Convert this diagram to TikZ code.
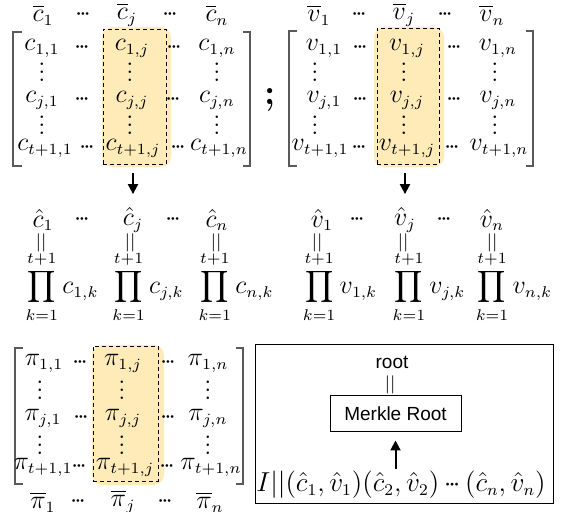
\RequirePackage{fix-cm}
\documentclass[tikz,border=0pt]{standalone}
\usepackage{amsmath,amssymb}
\usepackage{fontspec}
\newfontfamily\merklefont{Liberation Sans}
\usepackage{graphicx}
\usetikzlibrary{positioning,fit,arrows.meta}
\definecolor{colfill}{RGB}{255,235,184}
\definecolor{brkgray}{RGB}{90,90,90}
\DeclareMathSizes{13}{13}{7.8}{6}
\DeclareMathSizes{13.7}{13.7}{8.2}{6.4}
\newcommand{\tdots}{\mathinner{{\cdot}\mkern-2mu{\cdot}\mkern-2mu{\cdot}}}
\newcommand{\bigprod}{\mathop{\vcenter{\hbox{\scalebox{0.85}{$\displaystyle\prod$}}}}\limits}

\begin{document}
\begin{tikzpicture}[x=0.5pt,y=-0.5pt,
 every node/.style={font=\fontsize{13}{16}\selectfont,inner sep=1pt},
 colbox/.style={fill=colfill,rounded corners=5pt,inner sep=0pt},
 dashbox/.style={draw,dash pattern=on 2pt off 1.5pt,line width=0.4pt,inner sep=0pt},
 brk/.style={draw=brkgray,line width=0.6pt},
 vd/.style={yshift=3pt},
 eqv/.style={font=\fontsize{14}{14}\selectfont,text=black!80},
 sanslbl/.style={font=\merklefont\fontsize{9.5}{11}\selectfont},
 box/.style={draw,line width=0.5pt,inner sep=0pt},
 arr/.style={-{Triangle[length=5pt,width=5pt]},line width=1pt}]
\useasboundingbox (0,0) rectangle (564,512);

\node[colbox,fit={(102,27) (171,167)}] (hl-c) {};
\node[dashbox,fit={(103,29) (166,164)}] (dl-c) {};
\node[colbox,fit={(374,27) (444,167)}] (hl-v) {};
\node[dashbox,fit={(377,28) (439,164)}] (dl-v) {};
\node[colbox,fit={(92,345) (164,485)}] (hl-p) {};
\node[dashbox,fit={(93,346) (158,481)}] (dl-p) {};

\draw[brk] (22,32) -- (13,32) -- (13,166) -- (22,166);
\draw[brk] (243,32) -- (250,32) -- (250,166) -- (243,166);
\draw[brk] (297,31) -- (289,31) -- (289,166) -- (297,166);
\draw[brk] (526,31) -- (533,31) -- (533,166) -- (526,166);
\draw[brk] (23,348) -- (15,348) -- (15,484) -- (23,484);
\draw[brk] (236,348) -- (243,348) -- (243,484) -- (236,484);

\node (cbar-1) at (43,15) {$\overline{c}_1$};
\node (cbar-d1) at (83,15) {$\tdots$};
\node (cbar-j) at (127,15) {$\overline{c}_j$};
\node (cbar-d2) at (170,15) {$\tdots$};
\node (cbar-n) at (217,15) {$\overline{c}_n$};
\foreach \y/\r/\xa/\xb/\xc/\xd/\xe [count=\i] in {48/1/42/82/132/174/217, 100/j/42/82/132/173/217, 148/t+1/45/87/133/178/219}{
  \node (c-\i-1) at (\xa,\y) {$c_{\r,1}$};
  \node (c-\i-d1) at (\xb,\y) {$\tdots$};
  \node (c-\i-j) at (\xc,\y) {$c_{\r,j}$};
  \node (c-\i-d2) at (\xd,\y) {$\tdots$};
  \node (c-\i-n) at (\xe,\y) {$c_{\r,n}$};
}
\foreach \y [count=\i] in {72,125}{
  \node[vd] (c-v\i-1) at (42,\y) {$\vdots$};
  \node[vd] (c-v\i-j) at (130,\y) {$\vdots$};
  \node[vd] (c-v\i-n) at (217,\y) {$\vdots$};
}
\node[font=\fontsize{18}{20}\selectfont\bfseries] (semi) at (270,100) {;};

\node (vbar-1) at (319,15) {$\overline{v}_1$};
\node (vbar-d1) at (359,15) {$\tdots$};
\node (vbar-j) at (404,15) {$\overline{v}_j$};
\node (vbar-d2) at (445,15) {$\tdots$};
\node (vbar-n) at (492,15) {$\overline{v}_n$};
\foreach \y/\r/\xa/\xb/\xc/\xd/\xe [count=\i] in {48/1/324/360/407/454/498, 100/j/324/360/407/454/498, 148/t+1/320/359/407/452/499}{
  \node (v-\i-1) at (\xa,\y) {$v_{\r,1}$};
  \node (v-\i-d1) at (\xb,\y) {$\tdots$};
  \node (v-\i-j) at (\xc,\y) {$v_{\r,j}$};
  \node (v-\i-d2) at (\xd,\y) {$\tdots$};
  \node (v-\i-n) at (\xe,\y) {$v_{\r,n}$};
}
\foreach \y [count=\i] in {72,125}{
  \node[vd] (v-v\i-1) at (315,\y) {$\vdots$};
  \node[vd] (v-v\i-j) at (404,\y) {$\vdots$};
  \node[vd] (v-v\i-n) at (495,\y) {$\vdots$};
}

\node (chat-1) at (43,220) {$\hat{c}_1$};
\node (chat-d1) at (82,220) {$\tdots$};
\node (chat-j) at (133,220) {$\hat{c}_j$};
\node (chat-d2) at (173,220) {$\tdots$};
\node (chat-n) at (217,220) {$\hat{c}_n$};
\node (vhat-1) at (322,220) {$\hat{v}_1$};
\node (vhat-d1) at (357,220) {$\tdots$};
\node (vhat-j) at (405,220) {$\hat{v}_j$};
\node (vhat-d2) at (444,220) {$\tdots$};
\node (vhat-n) at (492,220) {$\hat{v}_n$};
\foreach \x [count=\i] in {43,132,218,319,405,494}
  \node[eqv] (eq-\i) at (\x,243) {\rotatebox{90}{$=$}};
\node (cprod-1) at (62,287) {$\bigprod_{k=1}^{t+1} c_{1,k}$};
\node (cprod-j) at (148,287) {$\bigprod_{k=1}^{t+1} c_{j,k}$};
\node (cprod-n) at (236,287) {$\bigprod_{k=1}^{t+1} c_{n,k}$};
\node (vprod-1) at (340,287) {$\bigprod_{k=1}^{t+1} v_{1,k}$};
\node (vprod-j) at (429,287) {$\bigprod_{k=1}^{t+1} v_{j,k}$};
\node (vprod-n) at (514,287) {$\bigprod_{k=1}^{t+1} v_{n,k}$};
\draw[arr,shorten <=3pt,shorten >=5.5pt] (hl-c.south -| chat-j.north) -- (chat-j.north);
\draw[arr,shorten <=3pt,shorten >=5.5pt] (hl-v.south -| vhat-j.north) -- (vhat-j.north);

\foreach \y/\r/\xa/\xb/\xc/\xd/\xe [count=\i] in {363/1/44/80/123/168/208, 418/j/43/81/123/168/208, 467/t+1/43/79/125/167/211}{
  \node (p-\i-1) at (\xa,\y) {$\pi_{\r,1}$};
  \node (p-\i-d1) at (\xb,\y) {$\tdots$};
  \node (p-\i-j) at (\xc,\y) {$\pi_{\r,j}$};
  \node (p-\i-d2) at (\xd,\y) {$\tdots$};
  \node (p-\i-n) at (\xe,\y) {$\pi_{\r,n}$};
}
\foreach \y [count=\i] in {390,445}{
  \node[vd] (p-v\i-1) at (40,\y) {$\vdots$};
  \node[vd] (p-v\i-j) at (122,\y) {$\vdots$};
  \node[vd] (p-v\i-n) at (208,\y) {$\vdots$};
}
\node (pbar-1) at (43,502) {$\overline{\pi}_1$};
\node (pbar-d1) at (78,502) {$\tdots$};
\node (pbar-j) at (123,502) {$\overline{\pi}_j$};
\node (pbar-d2) at (165,502) {$\tdots$};
\node (pbar-n) at (210,502) {$\overline{\pi}_n$};

\node[box,fit={(255,345) (553,504)}] (rbox) {};
\node[sanslbl] (root) at (392,362) {root};
\node[eqv] (eq-root) at (392,385) {\rotatebox{90}{$=$}};
\node[box,sanslbl,minimum width=65.5pt,minimum height=18pt] (merkle) at (395.5,414) {Merkle Root};
\node[font=\fontsize{13.7}{16}\selectfont] (leaf) at (401,485) {$I||(\hat{c}_1,\hat{v}_1)(\hat{c}_2,\hat{v}_2)\tdots(\hat{c}_n,\hat{v}_n)$};
\draw[arr,shorten >=4pt] (leaf.north -| merkle.south) -- (merkle.south);
\end{tikzpicture}
\end{document}
